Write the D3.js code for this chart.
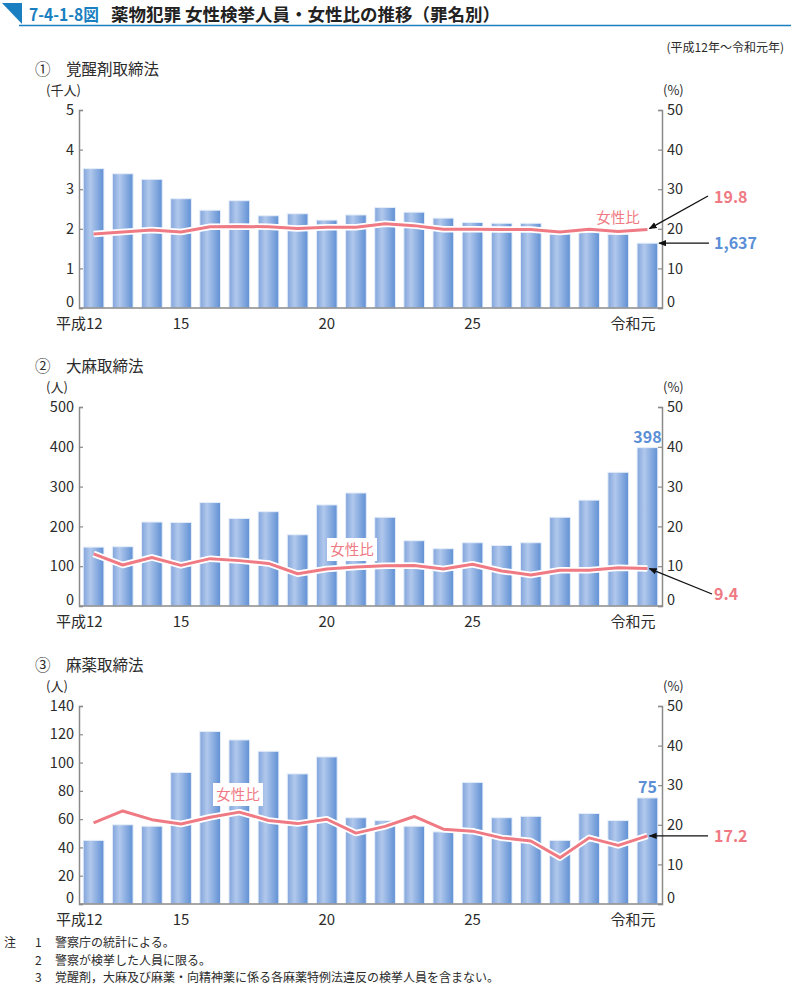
<!DOCTYPE html>
<html><head><meta charset="utf-8">
<script src="https://cdn.jsdelivr.net/npm/d3@7/dist/d3.min.js"></script>
<style>
body{margin:0;background:#fff;}
svg{display:block;font-family:"Noto Sans CJK JP","Noto Sans",sans-serif;}
</style></head>
<body>
<svg id="c" width="791" height="987"></svg>
<script>
const years = ["平成12","13","14","15","16","17","18","19","20","21","22","23","24","25","26","27","28","29","30","令和元"];
const xTickIdx = [0,3,8,13,19];
const xTickLabels = ["平成12","15","20","25","令和元"];

// ① 覚醒剤取締法 (千人)
const stimCount = [3.52,3.39,3.25,2.76,2.47,2.71,2.33,2.38,2.22,2.35,2.54,2.42,2.27,2.16,2.14,2.14,1.87,1.92,1.86,1.637];
const stimRatio = [18.7,19.2,19.7,19.2,20.5,20.6,20.5,20.1,20.4,20.4,21.3,20.8,19.9,19.9,19.8,19.8,19.2,19.9,19.3,19.8];
// ② 大麻取締法 (人)
const cannCount = [148,149,211,210,260,220,237,179,254,284,223,164,144,159,152,159,223,266,336,398];
const cannRatio = [13.1,10.3,12.2,10.2,11.9,11.4,10.7,8.1,9.3,9.8,10.1,10.2,9.3,10.5,8.8,7.8,9.0,9.0,9.6,9.4];
// ③ 麻薬取締法 (人)
const narcCount = [45,56,55,93,122,116,108,92,104,61,59,55,51,86,61,62,45,64,59,75];
const narcRatio = [20.5,23.5,21.3,20.2,21.9,23.2,21.1,20.3,21.4,17.9,19.6,22.1,18.9,18.4,16.7,15.9,11.7,16.7,14.8,17.2];

const leftTicks1 = [0,1,2,3,4,5];
const leftTicks2 = [0,100,200,300,400,500];
const leftTicks3 = [0,20,40,60,80,100,120,140];
const rightTicks = [0,10,20,30,40,50];

const svg = d3.select("#c");
const PINK = "#ef7a83", BLUE = "#5b8fd6", TXT = "#2b2b2b", AX = "#8a8a8a";

// defs
const defs = svg.append("defs");
const g = defs.append("linearGradient").attr("id","barg").attr("x1","0").attr("x2","1").attr("y1","0").attr("y2","0");
g.append("stop").attr("offset","0%").attr("stop-color","#82a5dc");
g.append("stop").attr("offset","35%").attr("stop-color","#b1c8ec");
g.append("stop").attr("offset","100%").attr("stop-color","#6090d4");
defs.append("marker").attr("id","arr").attr("viewBox","0 0 10 10").attr("refX",9).attr("refY",5)
  .attr("markerWidth",8).attr("markerHeight",8).attr("markerUnits","userSpaceOnUse").attr("orient","auto")
  .append("path").attr("d","M0,1 L10,5 L0,9 Z").attr("fill","#111");

// header
svg.append("path").attr("d","M2,3 L22,3 L22,24 Z").attr("fill","#1a7fc1");
svg.append("line").attr("x1",19).attr("x2",791).attr("y1",25.5).attr("y2",25.5).attr("stroke","#1a7fc1").attr("stroke-width",1.5);
svg.append("text").attr("x",29).attr("y",21).attr("font-size",17).attr("font-weight","bold").attr("fill","#1a7fc1")
  .attr("textLength",70).attr("lengthAdjust","spacingAndGlyphs").text("7-4-1-8図");
svg.append("text").attr("x",111).attr("y",21).attr("font-size",17.5).attr("font-weight","bold").attr("fill","#222").text("薬物犯罪 女性検挙人員・女性比の推移（罪名別）");
svg.append("text").attr("x",784).attr("y",52).attr("font-size",12).attr("text-anchor","end").attr("fill",TXT).text("(平成12年～令和元年)");

const X0 = 79, X1 = 662;
const x = d3.scaleBand().domain(d3.range(years.length)).range([X0,X1]).paddingInner(0.29).paddingOuter(0.145);

function panel(opt){
  const y = d3.scaleLinear().domain([0,opt.max]).range([opt.bottom,opt.top]);
  const yr = d3.scaleLinear().domain([0,50]).range([opt.bottom,opt.top]);
  const G = svg.append("g");
  G.append("text").attr("x",35).attr("y",opt.top-35).attr("font-size",15.5).attr("fill",TXT).text(opt.title);
  G.append("text").attr("x",opt.unitX).attr("y",opt.top-15.5).attr("font-size",13).attr("fill",TXT).text(opt.unit);
  G.append("text").attr("x",663).attr("y",opt.top-15.5).attr("font-size",13).attr("fill",TXT).text("(%)");
  // bars
  G.selectAll("rect.bar").data(opt.counts).join("rect").attr("class","bar")
    .attr("x",(d,i)=>x(i)).attr("width",x.bandwidth())
    .attr("y",d=>y(d)).attr("height",d=>opt.bottom-y(d))
    .attr("fill","url(#barg)").attr("stroke","#e6eef9").attr("stroke-width",1);
  // axes
  const la = d3.axisLeft(y).tickValues(opt.leftTicks).tickSize(-4).tickPadding(5).tickFormat(d3.format("d"));
  const lg = G.append("g").attr("transform",`translate(${X0},0)`).call(la);
  const ra = d3.axisRight(yr).tickValues(rightTicks).tickSize(-4).tickPadding(5);
  const rg = G.append("g").attr("transform",`translate(${X1},0)`).call(ra);
  [lg,rg].forEach(a=>{
    a.select(".domain").attr("stroke",AX).attr("stroke-width",1.5);
    a.selectAll(".tick line").attr("stroke",AX).attr("stroke-width",1.2);
    a.selectAll(".tick text").attr("font-size",14.5).attr("fill",TXT).attr("font-family","'Noto Sans CJK JP',sans-serif");
    a.selectAll(".tick").filter(d=>d===0).select("text").attr("y",-6);
  });
  // bottom axis
  G.append("line").attr("x1",X0).attr("x2",X1).attr("y1",opt.bottom).attr("y2",opt.bottom).attr("stroke",AX).attr("stroke-width",1.5);
  xTickIdx.forEach((k,j)=>{
    const cx = x(k)+x.bandwidth()/2;
    let anchor="middle", px=cx;
    if(j===0){anchor="end"; px=cx+9;}
    if(j===xTickIdx.length-1){anchor="end"; px=cx+8;}
    G.append("text").attr("x",px).attr("y",opt.bottom+21).attr("font-size",15).attr("text-anchor",anchor).attr("fill",TXT).text(xTickLabels[j]);
  });
  // ratio line
  const line = d3.line().x((d,i)=>x(i)+x.bandwidth()/2).y(d=>yr(d));
  G.append("path").datum(opt.ratio).attr("d",line).attr("fill","none").attr("stroke","#fff").attr("stroke-width",6.5).attr("stroke-linejoin","round");
  G.append("path").datum(opt.ratio).attr("d",line).attr("fill","none").attr("stroke",PINK).attr("stroke-width",3).attr("stroke-linejoin","round");
  // 女性比 label
  if(opt.box){
    G.append("rect").attr("x",opt.lblX-25).attr("y",opt.lblY-12).attr("width",50).attr("height",23).attr("fill","#fff");
  }
  G.append("text").attr("x",opt.lblX).attr("y",opt.lblY+5).attr("text-anchor","middle").attr("font-size",14.5).attr("fill",PINK).text("女性比");
  return {y,yr,G};
}

// Panel 1
const p1 = panel({title:"①　覚醒剤取締法",unit:"(千人)",unitX:46,top:110,bottom:308,max:5,counts:stimCount,ratio:stimRatio,leftTicks:leftTicks1,lblX:618,lblY:218,box:false});
const last = years.length-1, lc = x(last)+x.bandwidth()/2;
svg.append("line").attr("x1",708).attr("y1",196).attr("x2",lc+2).attr("y2",p1.yr(stimRatio[last])-1).attr("stroke","#111").attr("stroke-width",1.3).attr("marker-end","url(#arr)");
svg.append("text").attr("x",714).attr("y",203).attr("font-size",16).attr("font-weight","bold").attr("fill",PINK).text(d3.format(".1f")(stimRatio[last]));
svg.append("line").attr("x1",709).attr("y1",p1.y(stimCount[last])).attr("x2",X1-3).attr("y2",p1.y(stimCount[last])).attr("stroke","#111").attr("stroke-width",1.3).attr("marker-end","url(#arr)");
svg.append("text").attr("x",714).attr("y",p1.y(stimCount[last])+6).attr("font-size",16).attr("font-weight","bold").attr("fill",BLUE).text(d3.format(",")(Math.round(stimCount[last]*1000)));

// Panel 2
const p2 = panel({title:"②　大麻取締法",unit:"(人)",unitX:46,top:407,bottom:606,max:500,counts:cannCount,ratio:cannRatio,leftTicks:leftTicks2,lblX:352,lblY:550,box:true});
svg.append("text").attr("x",lc).attr("y",p2.y(cannCount[last])-5).attr("text-anchor","middle").attr("font-size",16).attr("font-weight","bold").attr("fill",BLUE).text(cannCount[last]);
svg.append("line").attr("x1",712).attr("y1",594).attr("x2",lc+2).attr("y2",p2.yr(cannRatio[last])).attr("stroke","#111").attr("stroke-width",1.3).attr("marker-end","url(#arr)");
svg.append("text").attr("x",714).attr("y",600).attr("font-size",16).attr("font-weight","bold").attr("fill",PINK).text(d3.format(".1f")(cannRatio[last]));

// Panel 3
const p3 = panel({title:"③　麻薬取締法",unit:"(人)",unitX:46,top:706,bottom:904,max:140,counts:narcCount,ratio:narcRatio,leftTicks:leftTicks3,lblX:238,lblY:795,box:true});
svg.append("text").attr("x",lc).attr("y",p3.y(narcCount[last])-5).attr("text-anchor","middle").attr("font-size",16).attr("font-weight","bold").attr("fill",BLUE).text(narcCount[last]);
svg.append("line").attr("x1",708).attr("y1",p3.yr(narcRatio[last])).attr("x2",lc+2).attr("y2",p3.yr(narcRatio[last])).attr("stroke","#111").attr("stroke-width",1.3).attr("marker-end","url(#arr)");
svg.append("text").attr("x",714).attr("y",p3.yr(narcRatio[last])+6).attr("font-size",16).attr("font-weight","bold").attr("fill",PINK).text(d3.format(".1f")(narcRatio[last]));

// notes
const notes = [["注","1","警察庁の統計による。"],["","2","警察が検挙した人員に限る。"],["","3","覚醒剤，大麻及び麻薬・向精神薬に係る各麻薬特例法違反の検挙人員を含まない。"]];
notes.forEach((n,i)=>{
  const yy = 947 + i*17.5;
  svg.append("text").attr("x",4).attr("y",yy).attr("font-size",12).attr("fill",TXT).text(n[0]);
  svg.append("text").attr("x",35).attr("y",yy).attr("font-size",12).attr("fill",TXT).text(n[1]);
  svg.append("text").attr("x",55).attr("y",yy).attr("font-size",12).attr("fill",TXT).text(n[2]);
});
</script>
</body></html>
